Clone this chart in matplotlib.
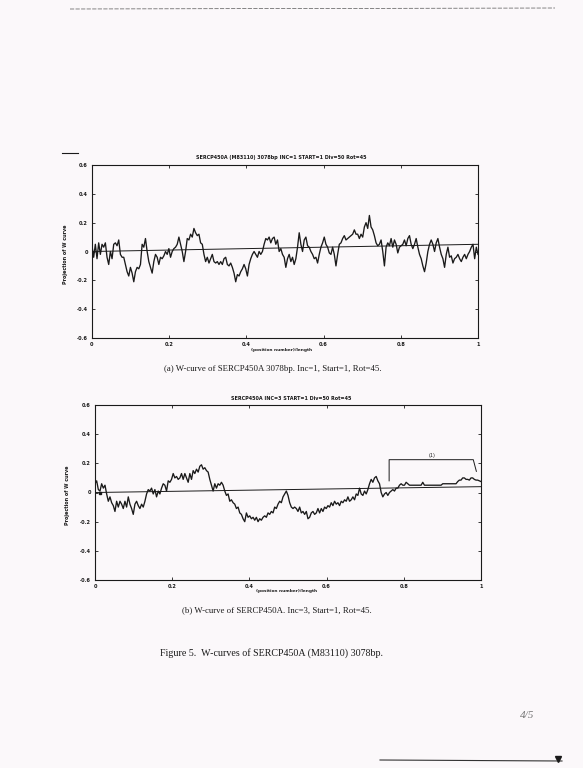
import numpy as np
import matplotlib
matplotlib.use("Agg")
import matplotlib.pyplot as plt

# W-curve projection values (evenly spaced along the sequence)
curve_a = [0.04, -0.04, 0.05, -0.05, 0.06, -0.02, 0.05, 0.03, 0.06, -0.04, -0.09, 0.00, -0.05, 0.05,
           0.06, 0.04, 0.08, -0.02, -0.04, -0.04, -0.09, -0.14, -0.17, -0.11, -0.15, -0.21, -0.14, -0.11,
           -0.12, -0.09, 0.05, 0.03, 0.09, 0.00, -0.07, -0.11, -0.15, -0.07, -0.02, -0.04, -0.09, -0.04,
           -0.05, -0.03, 0.00, -0.02, 0.02, -0.04, 0.00, 0.02, 0.03, 0.05, 0.10, 0.05, 0.00, -0.07,
           0.00, 0.09, 0.08, 0.12, 0.10, 0.16, 0.13, 0.11, 0.12, 0.06, 0.05, -0.02, -0.07, -0.04,
           -0.08, -0.05, -0.02, -0.07, -0.08, -0.07, -0.09, -0.07, -0.09, -0.05, -0.04, -0.09, -0.10,
           -0.08, -0.11, -0.15, -0.21, -0.16, -0.17, -0.14, -0.12, -0.09, -0.12, -0.17, -0.09, -0.05,
           -0.02, 0.00, -0.02, -0.04, 0.00, -0.02, 0.00, 0.05, 0.09, 0.08, 0.10, 0.06, 0.09, 0.10,
           0.05, 0.08, 0.00, 0.02, -0.02, -0.04, -0.11, -0.05, -0.02, -0.07, -0.04, -0.09, -0.05,
           0.03, 0.13, 0.05, 0.00, 0.08, 0.10, 0.04, 0.03, 0.00, -0.02, -0.05, -0.04, -0.08, -0.02,
           0.03, 0.06, 0.10, 0.05, 0.03, -0.01, -0.02, 0.03, -0.02, -0.10, -0.02, 0.05, 0.06, 0.09,
           0.11, 0.08, 0.09, 0.10, 0.11, 0.12, 0.15, 0.12, 0.12, 0.09, 0.12, 0.10, 0.17, 0.20, 0.16,
           0.25, 0.17, 0.15, 0.11, 0.06, 0.04, 0.05, 0.08, 0.00, -0.10, 0.03, 0.06, 0.04, 0.09, 0.03,
           0.08, 0.05, -0.01, 0.03, 0.04, 0.05, 0.08, 0.04, 0.09, 0.11, 0.05, 0.02, 0.05, 0.09, 0.03,
           -0.02, -0.05, -0.10, -0.14, -0.08, 0.00, 0.05, 0.08, 0.05, 0.00, 0.06, 0.09, 0.03, -0.02,
           -0.05, -0.11, -0.02, 0.03, -0.04, -0.03, -0.08, -0.05, -0.04, -0.02, -0.05, -0.07, -0.04,
           -0.02, -0.05, -0.02, 0.00, 0.03, 0.05, -0.05, 0.03, -0.02]

curve_b = [0.06, 0.08, 0.02, 0.01, 0.06, 0.03, 0.05, -0.01, -0.06, -0.03, -0.07, -0.09, -0.13, -0.06,
           -0.10, -0.06, -0.08, -0.11, -0.06, -0.10, -0.03, -0.08, -0.11, -0.15, -0.08, -0.06, -0.09,
           -0.11, -0.08, -0.10, -0.06, -0.01, 0.02, 0.01, 0.03, -0.01, 0.02, -0.03, 0.01, -0.01, 0.03,
           0.06, 0.05, 0.01, 0.08, 0.07, 0.09, 0.13, 0.10, 0.11, 0.09, 0.10, 0.13, 0.09, 0.13, 0.10,
           0.07, 0.13, 0.09, 0.15, 0.13, 0.16, 0.14, 0.18, 0.19, 0.16, 0.17, 0.15, 0.14, 0.09, 0.05,
           0.01, 0.06, 0.03, 0.06, 0.05, 0.07, 0.05, 0.01, -0.02, -0.01, -0.06, -0.05, -0.07, -0.08,
           -0.11, -0.10, -0.14, -0.15, -0.18, -0.20, -0.14, -0.17, -0.16, -0.18, -0.17, -0.19, -0.17,
           -0.20, -0.18, -0.19, -0.17, -0.16, -0.17, -0.14, -0.15, -0.13, -0.14, -0.10, -0.11, -0.08,
           -0.06, -0.07, -0.03, -0.01, 0.01, -0.02, -0.07, -0.10, -0.11, -0.10, -0.11, -0.13, -0.10,
           -0.14, -0.13, -0.15, -0.13, -0.18, -0.17, -0.14, -0.13, -0.15, -0.14, -0.11, -0.14, -0.11,
           -0.13, -0.10, -0.11, -0.09, -0.10, -0.07, -0.09, -0.06, -0.08, -0.07, -0.09, -0.06, -0.07,
           -0.05, -0.06, -0.03, -0.06, -0.05, -0.03, -0.05, -0.01, -0.02, 0.03, -0.01, -0.02, 0.01,
           -0.01, 0.02, 0.06, 0.09, 0.07, 0.10, 0.11, 0.08, 0.06, 0.00, -0.03, -0.01, 0.00, -0.02,
           0.00, 0.01, 0.02, 0.01, 0.03, 0.03, 0.05, 0.06, 0.05, 0.05, 0.07, 0.06, 0.05,
           0.05, 0.05, 0.05, 0.05, 0.05, 0.05, 0.05, 0.07,
           0.05, 0.05, 0.05, 0.05, 0.05, 0.05, 0.05, 0.05, 0.05, 0.05, 0.05,
           0.06, 0.06, 0.06, 0.06, 0.06, 0.06, 0.06, 0.06, 0.06,
           0.075, 0.085, 0.085, 0.10, 0.10, 0.09, 0.09, 0.085, 0.10, 0.10, 0.09, 0.085, 0.085, 0.08, 0.075]

# trend lines drawn under each curve
trend_a = [0.0, 0.05]
trend_b = [0.0, 0.04]

x_ticks = [0, 0.2, 0.4, 0.6, 0.8, 1]
x_ticklabels = ["0", "0.2", "0.4", "0.6", "0.8", "1"]
y_ticks = [-0.6, -0.4, -0.2, 0, 0.2, 0.4, 0.6]
y_ticklabels = ["-0.6", "-0.4", "-0.2", "0", "0.2", "0.4", "0.6"]

title_a = "SERCP450A (M83110) 3078bp INC=1 START=1 Div=50 Rot=45"
title_b = "SERCP450A INC=3 START=1 Div=50 Rot=45"
caption_a = "(a) W-curve of SERCP450A 3078bp. Inc=1, Start=1, Rot=45."
caption_b = "(b) W-curve of SERCP450A. Inc=3, Start=1, Rot=45."
fig_caption = "Figure 5.  W-curves of SERCP450A (M83110) 3078bp."

# bracket "(1)" over the tail of curve b
bracket_x = [0.762, 0.762, 0.980, 0.988]
bracket_y = [0.08, 0.225, 0.225, 0.145]

W, H = 583, 768
BG = "#fbf8fa"
INK = "#1a1a1a"


def px(x, y):
    return x / W, 1 - y / H


def style_axis(ax):
    ax.set_xlim(0, 1)
    ax.set_ylim(-0.6, 0.6)
    ax.set_xticks(x_ticks)
    ax.set_xticklabels(x_ticklabels)
    ax.set_yticks(y_ticks)
    ax.set_yticklabels(y_ticklabels)
    ax.tick_params(direction="in", length=2.5, width=0.6, labelsize=3.6, pad=3,
                   top=True, right=True, colors=INK)
    for lab in ax.get_xticklabels() + ax.get_yticklabels():
        lab.set_fontweight("bold")
    for s in ax.spines.values():
        s.set_linewidth(0.8)
        s.set_color(INK)
    ax.set_facecolor("none")


fig = plt.figure(figsize=(W / 100, H / 100), dpi=100)
fig.patch.set_facecolor(BG)

# plot (a)
ax1 = fig.add_axes([92 / W, 1 - 338 / H, 386 / W, 173 / H])
xa = np.linspace(0, 1, len(curve_a))
ax1.plot([0, 1], trend_a, color=INK, lw=0.7)
ax1.plot(xa, curve_a, color=INK, lw=0.95)
style_axis(ax1)

# plot (b)
ax2 = fig.add_axes([95 / W, 1 - 580 / H, 386 / W, 175 / H])
xb = np.linspace(0, 1, len(curve_b))
ax2.plot([0, 1], trend_b, color=INK, lw=0.7)
ax2.plot(xb, curve_b, color=INK, lw=0.95)
ax2.plot([0.012], [0.0], marker="s", ms=2, color=INK)
ax2.plot(bracket_x, bracket_y, color=INK, lw=0.7)
ax2.text(0.873, 0.255, "(1)", fontsize=3.6, ha="center", va="center", color=INK)
style_axis(ax2)

small = dict(fontsize=3.5, fontweight="bold", color=INK, ha="center", va="center")
fig.text(*px(281, 157), title_a, **small)
fig.text(*px(291, 398), title_b, **small)
fig.text(*px(282, 350), "(position number)/length", fontsize=3.1, fontweight="bold", color=INK,
         ha="center", va="center")
fig.text(*px(287, 591), "(position number)/length", fontsize=3.1, fontweight="bold", color=INK,
         ha="center", va="center")
fig.text(*px(65, 254), "Projection of W curve", rotation=90, **small)
fig.text(*px(67, 495), "Projection of W curve", rotation=90, **small)

serif = ["Liberation Serif", "DejaVu Serif"]
fig.text(*px(273, 369), caption_a, fontsize=6.3, family=serif, color=INK, ha="center", va="center")
fig.text(*px(277, 610), caption_b, fontsize=6.3, family=serif, color=INK, ha="center", va="center")
fig.text(*px(272, 653), fig_caption, fontsize=7.2, family=serif, color=INK, ha="center", va="center")

# page marks from the scan
fig.text(*px(527, 716), "4/5", fontsize=8, family=serif, style="italic", color="#777777",
         ha="center", va="center")
fig.add_artist(plt.Line2D([70 / W, 555 / W], [1 - 9 / H, 1 - 8 / H], color="#555555",
                          lw=0.5, ls=(0, (6, 2))))
fig.add_artist(plt.Line2D([62 / W, 78 / W], [1 - 153 / H, 1 - 153 / H], color=INK, lw=0.8))
fig.add_artist(plt.Line2D([380 / W, 562 / W], [1 - 760 / H, 1 - 761 / H], color="#333333", lw=0.8))
fig.add_artist(plt.Line2D([558 / W], [1 - 759 / H], marker="v", ms=4, color=INK))

fig.savefig("out.png", dpi=100, facecolor=BG)
